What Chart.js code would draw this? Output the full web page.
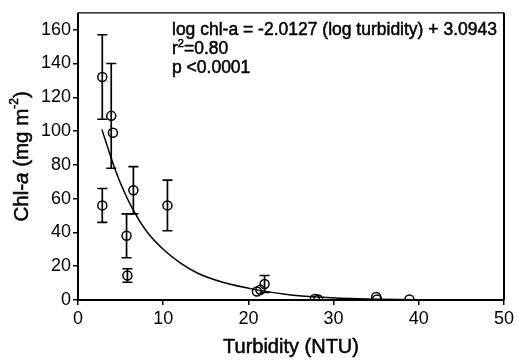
<!DOCTYPE html>
<html>
<head>
<meta charset="utf-8">
<script src="https://cdn.jsdelivr.net/npm/chart.js@4/dist/chart.umd.min.js"></script>
<style>
  html, body { margin: 0; padding: 0; background: #fff; }
  #wrap { width: 517px; height: 364px; }
</style>
</head>
<body>
<div id="wrap"><canvas id="myChart"></canvas></div>
<script>
const turbidity = [2.85, 3.9, 4.1, 2.85, 5.7, 5.8, 6.5, 10.5, 21.0, 21.4, 21.9, 27.8, 28.2, 35.0, 35.1, 38.9];
const chlA      = [132, 109, 99, 56, 38, 14.5, 65, 56, 5, 6, 9.5, 0.6, 0.3, 1.8, 0.3, 0.3];
const chlErr    = [25, 31, 0, 10, 13, 4, 14, 15, 0, 0, 5, 0, 0, 0, 0, 0];

// fitted curve
const fitTurbidity = [2.8, 4.1, 5, 6.5, 8, 10, 12, 14, 17, 21, 25, 28, 32, 35, 39];
const fitChlA      = [101, 81, 69, 53, 41, 30, 22, 16, 10.5, 6, 3, 1.8, 0.9, 0.5, 0.2];

const xTicks = [0, 10, 20, 30, 40, 50];
const yTicks = [0, 20, 40, 60, 80, 100, 120, 140, 160];

const FONT = '"Liberation Sans", Arial, sans-serif';

const ctx = document.getElementById('myChart');

// draws text and thickens it a little, like the scanned original
function heavyText(c, s, x, y) {
  c.fillText(s, x, y);
  c.strokeText(s, x, y);
}

const extras = {
  id: 'extras',
  beforeDatasetsDraw(chart) {
    const c = chart.ctx, xs = chart.scales.x, ys = chart.scales.y;
    c.save();
    c.strokeStyle = '#000';
    c.lineWidth = 1.7;
    turbidity.forEach((t, i) => {
      if (!chlErr[i]) return;
      const px = xs.getPixelForValue(t);
      const top = ys.getPixelForValue(chlA[i] + chlErr[i]);
      const bot = ys.getPixelForValue(chlA[i] - chlErr[i]);
      c.beginPath();
      c.moveTo(px, top); c.lineTo(px, bot);
      c.moveTo(px - 5, top); c.lineTo(px + 5, top);
      c.moveTo(px - 5, bot); c.lineTo(px + 5, bot);
      c.stroke();
    });
    c.restore();
  },
  afterDraw(chart) {
    const c = chart.ctx, a = chart.chartArea;
    c.save();
    // frame
    c.strokeStyle = '#000';
    c.lineWidth = 1.2;
    c.beginPath();
    c.moveTo(a.left, a.top); c.lineTo(a.right, a.top);
    c.stroke();
    c.lineWidth = 2;
    c.beginPath();
    c.moveTo(a.right, a.top); c.lineTo(a.right, a.bottom);
    c.moveTo(a.left, a.top); c.lineTo(a.left, a.bottom); c.lineTo(a.right, a.bottom);
    c.stroke();

    c.fillStyle = '#000';
    c.lineWidth = 0.5;
    // regression text
    c.font = '17.5px ' + FONT;
    c.textBaseline = 'middle';
    c.textAlign = 'left';
    heavyText(c, 'log chl-a = -2.0127 (log turbidity) + 3.0943', 172, 30);
    heavyText(c, 'r', 172, 49);
    let w = c.measureText('r').width;
    c.font = '11px ' + FONT;
    heavyText(c, '2', 172 + w, 44);
    let w2 = c.measureText('2').width;
    c.font = '17.5px ' + FONT;
    heavyText(c, '=0.80', 172 + w + w2, 49);
    heavyText(c, 'p <0.0001', 172, 68);

    // x title
    c.font = '20px ' + FONT;
    c.textAlign = 'center';
    heavyText(c, 'Turbidity (NTU)', (a.left + a.right) / 2, 347);

    // y title with italic a and superscript -2
    c.translate(22, (a.top + a.bottom) / 2);
    c.rotate(-Math.PI / 2);
    const parts = [
      ['Chl-', '20.5px ' + FONT, 0],
      ['a', 'italic 20.5px ' + FONT, 0],
      [' (mg m', '20.5px ' + FONT, 0],
      ['-2', '12px ' + FONT, -7],
      [')', '20.5px ' + FONT, 0]
    ];
    let total = 0;
    parts.forEach(p => { c.font = p[1]; total += c.measureText(p[0]).width; });
    let x = -total / 2;
    c.textAlign = 'left';
    parts.forEach(p => {
      c.font = p[1];
      heavyText(c, p[0], x, p[2]);
      x += c.measureText(p[0]).width;
    });
    c.restore();
  }
};

new Chart(ctx, {
  type: 'scatter',
  data: {
    datasets: [{
      label: 'Chl-a',
      data: turbidity.map((t, i) => ({ x: t, y: chlA[i] })),
      pointStyle: 'circle',
      pointRadius: 4.5,
      pointHoverRadius: 4.5,
      pointBorderWidth: 1.5,
      pointBorderColor: '#000',
      pointBackgroundColor: 'rgba(0,0,0,0)',
      showLine: false,
      order: 1
    }, {
      label: 'fit',
      data: fitTurbidity.map((t, i) => ({ x: t, y: fitChlA[i] })),
      showLine: true,
      borderColor: '#000',
      borderWidth: 1.5,
      pointRadius: 0,
      cubicInterpolationMode: 'monotone',
      order: 2
    }]
  },
  options: {
    responsive: true,
    maintainAspectRatio: false,
    animation: false,
    layout: { padding: { left: 0, right: 12, top: 7, bottom: 0 } },
    plugins: { legend: { display: false }, tooltip: { enabled: false } },
    scales: {
      x: {
        type: 'linear',
        min: 0,
        max: 50,
        afterBuildTicks: s => { s.ticks = xTicks.map(v => ({ value: v })); },
        afterFit: s => { s.height = 64; },
        grid: { display: true, drawOnChartArea: false, tickLength: 5, color: '#000', lineWidth: 1.5 },
        border: { display: false },
        ticks: { color: '#000', font: { family: FONT, size: 18 }, padding: 3, maxRotation: 0 }
      },
      y: {
        type: 'linear',
        min: 0,
        max: 170,
        afterBuildTicks: s => { s.ticks = yTicks.map(v => ({ value: v })); },
        afterFit: s => { s.width = 78; },
        grid: { display: true, drawOnChartArea: false, tickLength: 5, color: '#000', lineWidth: 1.5 },
        border: { display: false },
        ticks: { color: '#000', font: { family: FONT, size: 18 }, padding: 2 }
      }
    }
  },
  plugins: [extras]
});
</script>
</body>
</html>
